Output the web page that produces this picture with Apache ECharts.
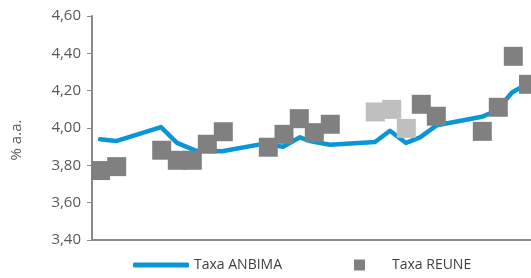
<!DOCTYPE html>
<html>
<head>
<meta charset="utf-8">
<script src="https://cdn.jsdelivr.net/npm/echarts@6/dist/echarts.min.js"></script>
<style>
  html, body { margin: 0; padding: 0; background: #fff; }
  #main { width: 531px; height: 278px; }
</style>
</head>
<body>
<div id="main"></div>
<script>
// posição horizontal (dias, escala relativa) e taxas
var anbimaX = [8, 24, 69, 85, 103, 130, 171, 191, 208, 218, 223, 238, 283, 298, 314, 328, 345, 390, 405, 420, 428, 436];
var anbimaY = [3.94, 3.93, 4.005, 3.92, 3.88, 3.875, 3.915, 3.90, 3.95, 3.93, 3.925, 3.91, 3.925, 3.985, 3.92, 3.95, 4.015, 4.06, 4.095, 4.19, 4.215, 4.235];

var reuneX = [8.5, 24.7, 69.7, 85.3, 100.3, 115.3, 131.3, 176.3, 192, 207.3, 222.3, 238.3, 283.3, 299.7, 314.3, 329.3, 344.3, 390.3, 406.3, 421.3, 436.5];
var reuneY = [3.772, 3.793, 3.881, 3.827, 3.827, 3.913, 3.980, 3.897, 3.966, 4.050, 3.975, 4.020, 4.086, 4.100, 3.998, 4.127, 4.063, 3.982, 4.111, 4.384, 4.234];
var reuneClaro = [12, 13, 14]; // pontos em cinza claro

var yTicks = { min: 3.4, max: 4.6, step: 0.2 };

var myChart = echarts.init(document.getElementById('main'));

var lineData = anbimaX.map(function (x, i) { return [x, anbimaY[i]]; });
var scatterData = reuneX.map(function (x, i) {
    var item = { value: [x, reuneY[i]] };
    if (reuneClaro.indexOf(i) >= 0) {
        item.itemStyle = { color: '#bfbfbf' };
    }
    return item;
});

myChart.setOption({
    animation: false,
    textStyle: { fontFamily: 'Open Sans' },
    grid: { left: 92, right: 0, top: 16, bottom: 38 },
    legend: [{
        data: [{ name: 'Taxa ANBIMA', icon: 'roundRect' }],
        left: 133, top: 258, padding: 0,
        itemWidth: 56, itemHeight: 5,
        textStyle: { fontSize: 14, color: '#404040', fontFamily: 'Open Sans' }
    }, {
        data: [{ name: 'Taxa REUNE', icon: 'rect' }],
        left: 354, top: 258, padding: 0,
        itemWidth: 11, itemHeight: 11,
        textStyle: { fontSize: 14, color: '#404040', fontFamily: 'Open Sans', padding: [0, 0, 0, 22] }
    }],
    xAxis: {
        type: 'value',
        min: 0, max: 439,
        axisLine: { show: true, onZero: false, lineStyle: { color: '#898989', width: 2 } },
        axisTick: { show: false },
        axisLabel: { show: false },
        splitLine: { show: false }
    },
    yAxis: {
        type: 'value',
        min: yTicks.min, max: yTicks.max, interval: yTicks.step,
        name: '% a.a.',
        nameLocation: 'middle',
        nameGap: 68,
        nameTextStyle: { fontSize: 15, color: '#595959', fontFamily: 'Open Sans', padding: [0, 24, 0, 0] },
        axisLine: { show: true, lineStyle: { color: '#898989', width: 2 } },
        axisTick: { show: true, length: 5, lineStyle: { color: '#898989' } },
        axisLabel: {
            fontSize: 15, color: '#595959', margin: 11,
            formatter: function (v) { return v.toFixed(2).replace('.', ','); }
        },
        splitLine: { show: false }
    },
    series: [{
        name: 'Taxa ANBIMA',
        type: 'line',
        data: lineData,
        showSymbol: false,
        symbol: 'none',
        lineStyle: { color: '#0a96d6', width: 4.5, cap: 'round', join: 'round' },
        itemStyle: { color: '#0a96d6' },
        z: 2
    }, {
        name: 'Taxa REUNE',
        type: 'scatter',
        data: scatterData,
        symbol: 'rect',
        symbolSize: 19,
        itemStyle: { color: '#808080', opacity: 1 },
        z: 3
    }]
});
</script>
</body>
</html>
